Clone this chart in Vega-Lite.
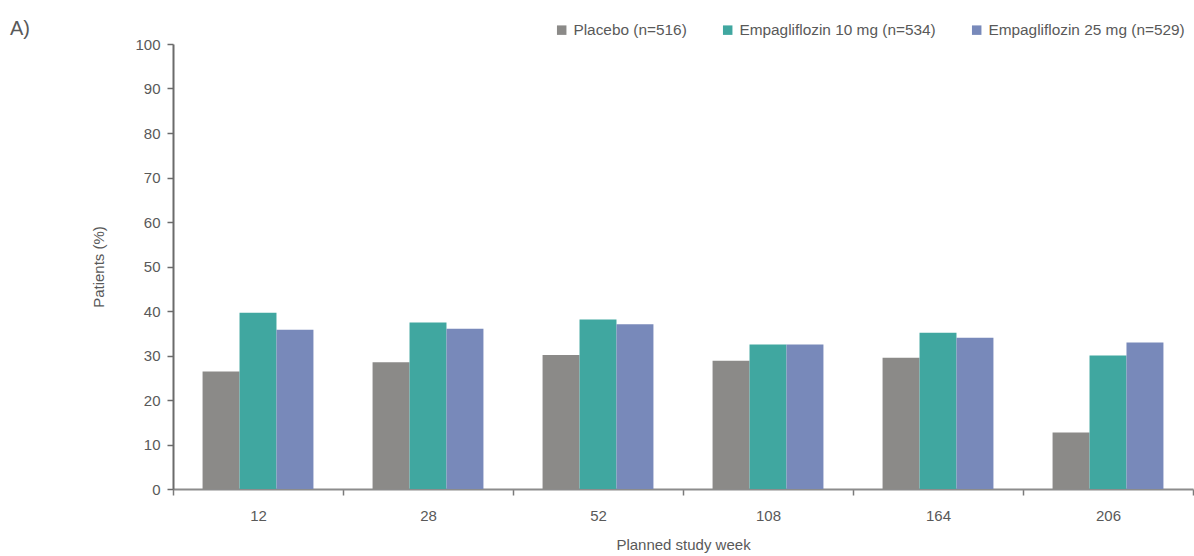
{
  "$schema": "https://vega.github.io/schema/vega-lite/v6.json",
  "width": 1020,
  "height": 445,
  "autosize": {"type": "none"},
  "padding": {"left": 173, "top": 44, "right": 1, "bottom": 67},
  "background": "#ffffff",
  "title": {"text": "A)", "anchor": "start", "frame": "group", "dx": -163, "dy": 21, "fontSize": 20, "fontWeight": "normal", "color": "#595959", "font": "Liberation Sans"},
  "data": {"values": [
    {"week": "12", "group": "Placebo (n=516)", "value": 26.4},
    {"week": "12", "group": "Empagliflozin 10 mg (n=534)", "value": 39.6},
    {"week": "12", "group": "Empagliflozin 25 mg (n=529)", "value": 35.8},
    {"week": "28", "group": "Placebo (n=516)", "value": 28.5},
    {"week": "28", "group": "Empagliflozin 10 mg (n=534)", "value": 37.4},
    {"week": "28", "group": "Empagliflozin 25 mg (n=529)", "value": 36.0},
    {"week": "52", "group": "Placebo (n=516)", "value": 30.1},
    {"week": "52", "group": "Empagliflozin 10 mg (n=534)", "value": 38.1},
    {"week": "52", "group": "Empagliflozin 25 mg (n=529)", "value": 37.0},
    {"week": "108", "group": "Placebo (n=516)", "value": 28.8},
    {"week": "108", "group": "Empagliflozin 10 mg (n=534)", "value": 32.5},
    {"week": "108", "group": "Empagliflozin 25 mg (n=529)", "value": 32.5},
    {"week": "164", "group": "Placebo (n=516)", "value": 29.5},
    {"week": "164", "group": "Empagliflozin 10 mg (n=534)", "value": 35.1},
    {"week": "164", "group": "Empagliflozin 25 mg (n=529)", "value": 34.0},
    {"week": "206", "group": "Placebo (n=516)", "value": 12.7},
    {"week": "206", "group": "Empagliflozin 10 mg (n=534)", "value": 30.0},
    {"week": "206", "group": "Empagliflozin 25 mg (n=529)", "value": 32.9}
  ]},
  "mark": {"type": "bar"},
  "encoding": {
    "x": {
      "field": "week", "type": "ordinal",
      "sort": ["12", "28", "52", "108", "164", "206"],
      "scale": {"paddingInner": 0, "paddingOuter": 0},
      "axis": {
        "title": "Planned study week",
        "labelAngle": 0,
        "tickBand": "extent",
        "tickSize": 6,
        "tickColor": "#7a7a7a",
        "tickWidth": 1.5,
        "domainColor": "#8c8c8c",
        "domainWidth": 2,
        "labelPadding": 13,
        "titlePadding": 14
      }
    },
    "xOffset": {
      "field": "group", "type": "nominal",
      "sort": ["Placebo (n=516)", "Empagliflozin 10 mg (n=534)", "Empagliflozin 25 mg (n=529)"],
      "scale": {"paddingInner": 0, "paddingOuter": 0.8}
    },
    "y": {
      "field": "value", "type": "quantitative",
      "scale": {"domain": [0, 100], "nice": false},
      "axis": {
        "title": "Patients (%)",
        "values": [0, 10, 20, 30, 40, 50, 60, 70, 80, 90, 100],
        "grid": false,
        "tickSize": 6,
        "tickColor": "#6b6b6b",
        "tickWidth": 1.5,
        "domainColor": "#6b6b6b",
        "domainWidth": 2,
        "labelPadding": 7,
        "titlePadding": 28
      }
    },
    "color": {
      "field": "group", "type": "nominal",
      "sort": ["Placebo (n=516)", "Empagliflozin 10 mg (n=534)", "Empagliflozin 25 mg (n=529)"],
      "scale": {"range": ["#8b8a88", "#40a7a0", "#7889ba"]},
      "legend": {
        "title": null,
        "orient": "none",
        "direction": "horizontal",
        "legendX": 381,
        "legendY": -22,
        "symbolType": "square",
        "symbolSize": 90,
        "symbolStrokeWidth": 0,
        "labelFontSize": 15.4,
        "labelLimit": 400,
        "labelOffset": 4,
        "columnPadding": 33,
        "labelColor": "#595959",
        "labelFont": "Liberation Sans"
      }
    }
  },
  "config": {
    "view": {"stroke": null},
    "font": "Liberation Sans",
    "axis": {
      "labelFont": "Liberation Sans",
      "titleFont": "Liberation Sans",
      "labelFontSize": 15,
      "titleFontSize": 15,
      "titleFontWeight": "normal",
      "labelColor": "#595959",
      "titleColor": "#595959"
    }
  }
}
